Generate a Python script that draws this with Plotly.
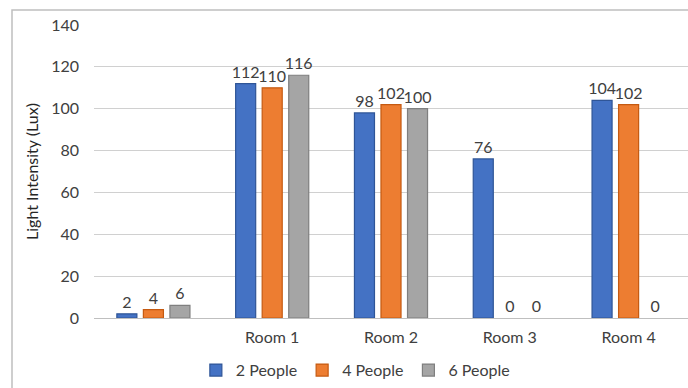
import plotly.graph_objects as go

categories = [" ", "Room 1", "Room 2", "Room 3", "Room 4"]
series_names = ["2 People", "4 People", "6 People"]
people2 = [2, 112, 98, 76, 104]
people4 = [4, 110, 102, 0, 102]
people6 = [6, 116, 100, 0, 0]
y_ticks = [0, 20, 40, 60, 80, 100, 120, 140]

fills = ["#4472C4", "#ED7D31", "#A5A5A5"]
lines = ["#2F5597", "#C55A11", "#7F7F7F"]
FONT = "Lato, Open Sans, sans-serif"

fig = go.Figure()
for name, vals, fc, lc in zip(series_names, [people2, people4, people6], fills, lines):
    fig.add_trace(go.Bar(
        x=categories, y=vals, name=name,
        marker=dict(color=fc, line=dict(color=lc, width=[0 if v == 0 else 1.2 for v in vals])),
        text=[str(v) for v in vals], textposition="outside", constraintext="none",
        textfont=dict(family=FONT, size=16, color="#404040"),
        cliponaxis=False,
    ))

fig.update_layout(
    width=688, height=388,
    margin=dict(l=94, r=0, t=25, b=70),
    paper_bgcolor="white", plot_bgcolor="white",
    barmode="group", bargap=0.33, bargroupgap=0.245,
    font=dict(family=FONT, size=16, color="#404040"),
    showlegend=True,
    legend=dict(orientation="h", x=0.44, xanchor="center", y=-0.236, yanchor="bottom",
                font=dict(family=FONT, size=16, color="#404040"),
                itemwidth=30, traceorder="normal"),
    xaxis=dict(showgrid=False, showline=False, ticks="", ticklabelstandoff=8,
               tickfont=dict(size=16, color="#404040"), fixedrange=True),
    yaxis=dict(range=[0, 140], tickvals=y_ticks, showgrid=True, gridcolor="#D0D0D0", gridwidth=1,
               zeroline=True, zerolinecolor="#BFBFBF", zerolinewidth=1,
               ticks="", ticklabelstandoff=14,
               tickfont=dict(size=16, color="#404040"),
               title=dict(text="Light Intensity (Lux)", font=dict(size=16, color="#262626"), standoff=8)),
    shapes=[dict(type="rect", xref="paper", yref="paper",
                 x0=(12 - 94) / 594, x1=1.2, y0=-0.5, y1=(318 - 10) / 293,
                 line=dict(color="#BFBFBF", width=1.5), fillcolor="rgba(0,0,0,0)", layer="below")],
)

fig.write_html("out.html")
